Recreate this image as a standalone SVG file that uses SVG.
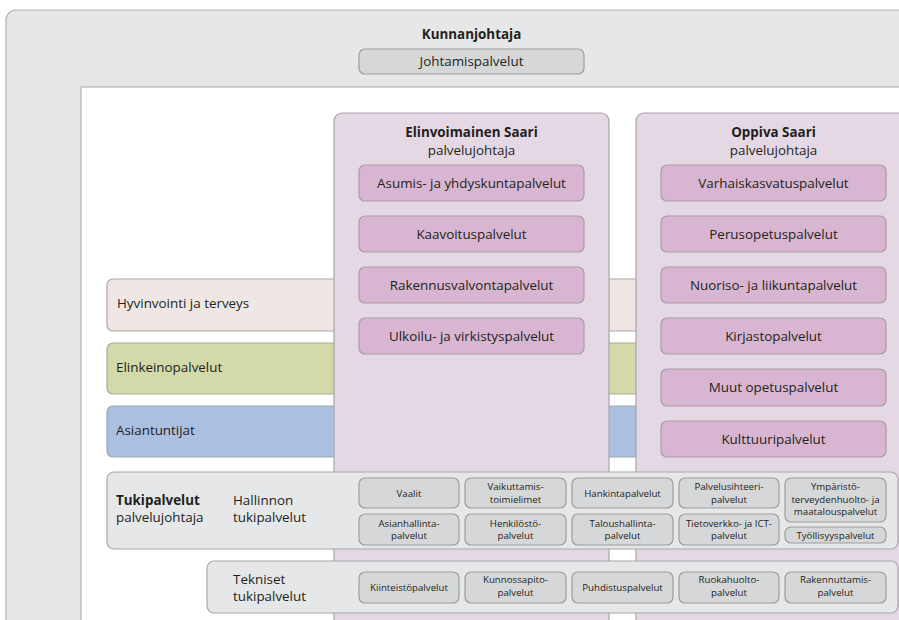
<svg xmlns="http://www.w3.org/2000/svg" width="899" height="620" viewBox="0 0 899 620">
<style>
text{font-family:"Open Sans","Noto Sans","Liberation Sans",sans-serif;fill:#231f20}
.t{font-size:13.4px}
.b{font-weight:bold}
.c{text-anchor:middle}
.s{font-size:9.7px;text-anchor:middle}
.col{fill:#e5d8e5;stroke:#a9a3a9;stroke-width:1.2}
.pb{fill:#d8b6d1;stroke:#a99ba6;stroke-width:1.2}
.gb{fill:#d6d7d8;stroke:#9c9d9e;stroke-width:1.2}
.gp{fill:#e6e7e8;stroke:#a7a8a9;stroke-width:1.2}
</style>
<rect width="899" height="620" fill="#ffffff"/>
<g id="kunnanjohtaja">
<rect x="6" y="10" width="1000" height="700" rx="10" fill="#e6e7e8" stroke="#b3b4b5" stroke-width="1.2"/>
<rect x="81" y="87" width="900" height="600" fill="#ffffff" stroke="#b3b4b5" stroke-width="1.2"/>
<text class="t b c" x="471.5" y="39">Kunnanjohtaja</text>
<rect class="gb" x="359" y="49" width="225" height="25" rx="6"/>
<text class="t c" x="471.5" y="66">Johtamispalvelut</text>
</g>
<g id="hyvinvointi">
<rect x="107" y="279" width="545" height="52" rx="6" fill="#efe7e3" stroke="#aeaaa8" stroke-width="1.2"/>
<text class="t" x="117" y="308">Hyvinvointi ja terveys</text>
</g>
<g id="elinkeino">
<rect x="107" y="343" width="545" height="51" rx="6" fill="#d3d9a8" stroke="#a8ab96" stroke-width="1.2"/>
<text class="t" x="116" y="371.5">Elinkeinopalvelut</text>
</g>
<g id="asiantuntijat">
<rect x="107" y="406" width="545" height="51" rx="6" fill="#abc0e1" stroke="#9aa5b8" stroke-width="1.2"/>
<text class="t" x="116" y="434.5">Asiantuntijat</text>
</g>
<g id="elinvoimainen">
<rect class="col" x="334" y="113" width="275" height="600" rx="8"/>
<text class="t b c" x="471.5" y="137">Elinvoimainen Saari</text>
<text class="t c" x="471.5" y="155">palvelujohtaja</text>
<rect class="pb" x="359" y="165" width="225" height="36" rx="6"/>
<text class="t c" x="471.5" y="187.5">Asumis- ja yhdyskuntapalvelut</text>
<rect class="pb" x="359" y="216" width="225" height="36" rx="6"/>
<text class="t c" x="471.5" y="238.5">Kaavoituspalvelut</text>
<rect class="pb" x="359" y="267" width="225" height="36" rx="6"/>
<text class="t c" x="471.5" y="289.5">Rakennusvalvontapalvelut</text>
<rect class="pb" x="359" y="318" width="225" height="36" rx="6"/>
<text class="t c" x="471.5" y="340.5">Ulkoilu- ja virkistyspalvelut</text>
</g>
<g id="oppiva">
<rect class="col" x="636" y="113" width="400" height="600" rx="8"/>
<text class="t b c" x="773.5" y="137">Oppiva Saari</text>
<text class="t c" x="773.5" y="155">palvelujohtaja</text>
<rect class="pb" x="661" y="165" width="225" height="36" rx="6"/>
<text class="t c" x="773.5" y="187.5">Varhaiskasvatuspalvelut</text>
<rect class="pb" x="661" y="216" width="225" height="36" rx="6"/>
<text class="t c" x="773.5" y="238.5">Perusopetuspalvelut</text>
<rect class="pb" x="661" y="267" width="225" height="36" rx="6"/>
<text class="t c" x="773.5" y="289.5">Nuoriso- ja liikuntapalvelut</text>
<rect class="pb" x="661" y="318" width="225" height="36" rx="6"/>
<text class="t c" x="773.5" y="340.5">Kirjastopalvelut</text>
<rect class="pb" x="661" y="369" width="225" height="37" rx="6"/>
<text class="t c" x="773.5" y="392">Muut opetuspalvelut</text>
<rect class="pb" x="661" y="421" width="225" height="36" rx="6"/>
<text class="t c" x="773.5" y="443.5">Kulttuuripalvelut</text>
</g>
<g id="tukipalvelut">
<rect class="gp" x="107" y="472" width="791" height="77" rx="7"/>
<text class="t b" x="116" y="505">Tukipalvelut</text>
<text class="t" x="116" y="522">palvelujohtaja</text>
<text class="t" x="233" y="505">Hallinnon</text>
<text class="t" x="233" y="522">tukipalvelut</text>
<rect class="gb" x="359" y="478" width="100" height="30" rx="6"/>
<text class="s" x="409" y="496.5">Vaalit</text>
<rect class="gb" x="465" y="478" width="101" height="30" rx="6"/>
<text class="s" x="515.5" y="489.5">Vaikuttamis-</text>
<text class="s" x="515.5" y="502.5">toimielimet</text>
<rect class="gb" x="572" y="478" width="101" height="30" rx="6"/>
<text class="s" x="622.5" y="496.5">Hankintapalvelut</text>
<rect class="gb" x="679" y="478" width="100" height="30" rx="6"/>
<text class="s" x="729" y="489.5">Palvelusihteeri-</text>
<text class="s" x="729" y="502.5">palvelut</text>
<rect class="gb" x="785" y="478" width="101" height="44" rx="6"/>
<text class="s" x="835.5" y="489.5">Ympäristö-</text>
<text class="s" x="835.5" y="502.5">terveydenhuolto- ja</text>
<text class="s" x="835.5" y="515">maatalouspalvelut</text>
<rect class="gb" x="359" y="514" width="100" height="31" rx="6"/>
<text class="s" x="409" y="526.5">Asianhallinta-</text>
<text class="s" x="409" y="539">palvelut</text>
<rect class="gb" x="465" y="514" width="101" height="31" rx="6"/>
<text class="s" x="515.5" y="526.5">Henkilöstö-</text>
<text class="s" x="515.5" y="539">palvelut</text>
<rect class="gb" x="572" y="514" width="101" height="31" rx="6"/>
<text class="s" x="622.5" y="526.5">Taloushallinta-</text>
<text class="s" x="622.5" y="539">palvelut</text>
<rect class="gb" x="679" y="514" width="100" height="31" rx="6"/>
<text class="s" x="729" y="526.5">Tietoverkko- ja ICT-</text>
<text class="s" x="729" y="539">palvelut</text>
<rect class="gb" x="785" y="527" width="101" height="16" rx="6"/>
<text class="s" x="835.5" y="538.5">Työllisyyspalvelut</text>
</g>
<g id="tekniset">
<rect class="gp" x="207" y="561" width="691" height="52" rx="7"/>
<text class="t" x="233" y="584">Tekniset</text>
<text class="t" x="233" y="601">tukipalvelut</text>
<rect class="gb" x="359" y="572" width="100" height="31" rx="6"/>
<text class="s" x="409" y="590.5">Kiinteistöpalvelut</text>
<rect class="gb" x="465" y="572" width="101" height="31" rx="6"/>
<text class="s" x="515.5" y="582.5">Kunnossapito-</text>
<text class="s" x="515.5" y="596">palvelut</text>
<rect class="gb" x="572" y="572" width="101" height="31" rx="6"/>
<text class="s" x="622.5" y="590.5">Puhdistuspalvelut</text>
<rect class="gb" x="679" y="572" width="100" height="31" rx="6"/>
<text class="s" x="729" y="582.5">Ruokahuolto-</text>
<text class="s" x="729" y="596">palvelut</text>
<rect class="gb" x="785" y="572" width="101" height="31" rx="6"/>
<text class="s" x="835.5" y="582.5">Rakennuttamis-</text>
<text class="s" x="835.5" y="596">palvelut</text>
</g>
<g id="connectors"/>
</svg>
